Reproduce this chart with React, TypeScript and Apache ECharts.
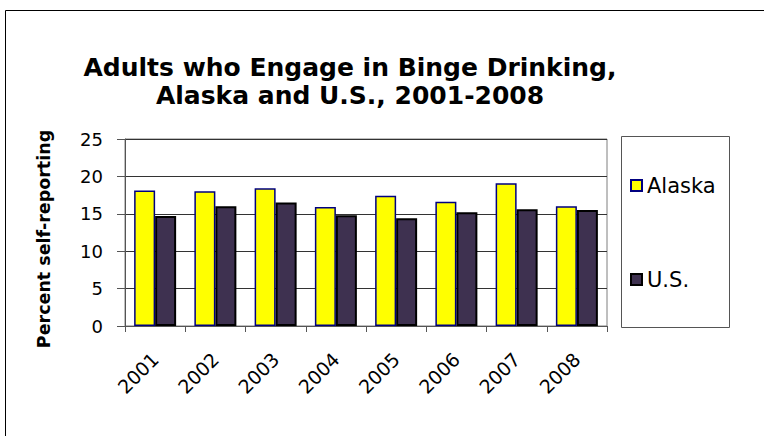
import React, { useEffect, useRef } from "react";
import * as echarts from "echarts";

const years = ["2001", "2002", "2003", "2004", "2005", "2006", "2007", "2008"];
const alaska = [18.1, 18.0, 18.4, 15.9, 17.4, 16.6, 19.1, 16.0];
const us = [14.7, 16.0, 16.5, 14.8, 14.4, 15.2, 15.6, 15.5];
const yTicks = { min: 0, max: 25, interval: 5 };
const titleText = "Adults who Engage in Binge Drinking,\nAlaska and U.S., 2001-2008";
const yName = "Percent self-reporting";

export default function App() {
  const ref = useRef<HTMLDivElement>(null);
  useEffect(() => {
    if (!ref.current) return;
    const chart = echarts.init(ref.current, undefined, { renderer: "svg" });
    const font = "'DejaVu Sans', sans-serif";
    chart.setOption({
      animation: false,
      backgroundColor: "#ffffff",
      grid: { left: 125, right: 157, top: 139, bottom: 110, show: true, borderColor: "#7f7f7f", borderWidth: 1 },
      xAxis: {
        type: "category",
        data: years,
        axisLine: { lineStyle: { color: "#555", width: 1 } },
        axisTick: { show: true, length: 6, lineStyle: { color: "#555" } },
        axisLabel: { rotate: 45, margin: 30, fontFamily: font, fontSize: 19, color: "#000" },
      },
      yAxis: {
        type: "value",
        min: yTicks.min,
        max: yTicks.max,
        interval: yTicks.interval,
        axisLine: { show: true, lineStyle: { color: "#555", width: 1 } },
        axisTick: { show: true, length: 8, lineStyle: { color: "#555" } },
        axisLabel: { margin: 22, fontFamily: font, fontSize: 18, color: "#000" },
        splitLine: { show: true, lineStyle: { color: "#333", width: 1 } },
      },
      legend: [
        {
          data: ["Alaska"],
          left: 630,
          top: 175,
          padding: 0,
          icon: "rect",
          itemWidth: 11,
          itemHeight: 11,
          textStyle: { fontFamily: font, fontSize: 21, color: "#000" },
        },
        {
          data: ["U.S."],
          left: 630,
          top: 269,
          padding: 0,
          icon: "rect",
          itemWidth: 11,
          itemHeight: 11,
          textStyle: { fontFamily: font, fontSize: 21, color: "#000" },
        },
      ],
      series: [
        {
          name: "Alaska",
          type: "bar",
          data: alaska,
          barWidth: 21,
          barGap: "0%",
          itemStyle: { color: "#ffff00", borderColor: "#000080", borderWidth: 1.5 },
        },
        {
          name: "U.S.",
          type: "bar",
          data: us,
          barWidth: 21,
          barGap: "0%",
          itemStyle: { color: "#3e3150", borderColor: "#000000", borderWidth: 2 },
        },
      ],
      graphic: [
        {
          type: "polyline",
          shape: { points: [[5.5, 436], [5.5, 10.5], [764, 10.5]] },
          style: { stroke: "#000", lineWidth: 1, fill: null },
        },
        {
          type: "rect",
          shape: { x: 621.5, y: 136.5, width: 108, height: 191 },
          style: { stroke: "#555", lineWidth: 1, fill: "#fff" },
          z: -1,
        },
        {
          type: "text",
          x: 350,
          y: 53,
          style: {
            text: titleText,
            fontFamily: font,
            fontWeight: "bold",
            fontSize: 25,
            lineHeight: 28,
            fill: "#000",
            textAlign: "center",
          },
        },
        {
          type: "text",
          x: 44,
          y: 239,
          rotation: Math.PI / 2,
          style: {
            text: yName,
            fontFamily: font,
            fontWeight: "bold",
            fontSize: 17.5,
            fill: "#000",
            textAlign: "center",
            textVerticalAlign: "middle",
          },
        },
      ],
    });
    return () => chart.dispose();
  }, []);
  return <div ref={ref} style={{ width: 764, height: 436, position: "absolute", left: 0, top: 0 }} />;
}
